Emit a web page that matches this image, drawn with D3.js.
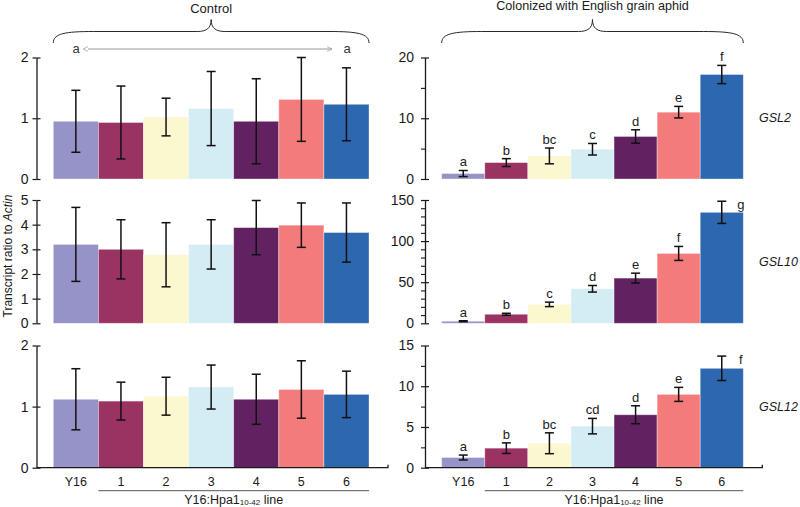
<!DOCTYPE html>
<html><head><meta charset="utf-8">
<script src="https://cdn.jsdelivr.net/npm/d3@7"></script>
<style>body{margin:0;background:#fff}svg{display:block;font-family:"Liberation Sans",Arial,sans-serif}</style>
</head><body><svg id="c" width="800" height="507"></svg>
<script>
// ---------- data ----------
const categories = ["Y16","1","2","3","4","5","6"];
const genes = ["GSL2","GSL10","GSL12"];
const palette = ["#9593c7","#9a3362","#fbf7cf","#d4ecf3","#622262","#f37b7b","#2d67b0"];

const controlMeans_GSL2  = [0.95,0.93,1.02,1.16,0.95,1.31,1.23];
const controlErr_GSL2    = [0.51,0.60,0.31,0.61,0.70,0.69,0.60];
const controlMeans_GSL10 = [3.2,3.0,2.78,3.2,3.88,3.98,3.68];
const controlErr_GSL10   = [1.5,1.2,1.3,1.0,1.1,0.9,1.2];
const controlMeans_GSL12 = [1.12,1.09,1.17,1.32,1.12,1.28,1.2];
const controlErr_GSL12   = [0.5,0.31,0.31,0.36,0.41,0.47,0.38];

const aphidMeans_GSL2  = [0.9,2.7,3.8,4.9,7.0,11.0,17.2];
const aphidErr_GSL2    = [0.5,0.65,1.3,0.95,1.1,0.95,1.5];
const aphidLetters_GSL2 = ["a","b","bc","c","d","e","f"];
const aphidMeans_GSL10 = [2.5,11,23,42,55,85,135];
const aphidErr_GSL10   = [0.6,1.2,2.7,4,6,8.5,13.5];
const aphidLetters_GSL10 = ["a","b","c","d","e","f","g"];
const aphidMeans_GSL12 = [1.25,2.4,3.0,5.1,6.5,9.0,12.2];
const aphidErr_GSL12   = [0.3,0.65,1.28,0.95,1.1,0.86,1.5];
const aphidLetters_GSL12 = ["a","b","bc","cd","d","e","f"];

const controlMax = [2,5,2];
const controlTicks = [[0,1,2],[0,1,2,3,4,5],[0,1,2]];
const aphidMax = [20,150,15];
const aphidTicks = [[0,10,20],[0,50,100,150],[0,5,10,15]];
const aphidMinorTicks = [[5,15],[10,20,30,40,60,70,80,90,110,120,130,140],[2.5,7.5,12.5]];
const lastLetterBeside = [false,true,true];

const controlLetters = ["a","a"];
const groupTitles = ["Control","Colonized with English grain aphid"];
const lineLabel = "Y16:Hpa1";
const lineSub = "10-42";

// ---------- layout ----------
const svg = d3.select("#c");
const ink = "#1a1a1a";
const rows = [{y0:179,y1:57.5},{y0:323.3,y1:200},{y0:467.7,y1:345.5}];
const panels = [
  {axisX:36.5, range:[53.3,369]},
  {axisX:425,  range:[441.7,743.3]}
];
const controlData = [
  [controlMeans_GSL2,controlErr_GSL2],
  [controlMeans_GSL10,controlErr_GSL10],
  [controlMeans_GSL12,controlErr_GSL12]];
const aphidData = [
  [aphidMeans_GSL2,aphidErr_GSL2,aphidLetters_GSL2],
  [aphidMeans_GSL10,aphidErr_GSL10,aphidLetters_GSL10],
  [aphidMeans_GSL12,aphidErr_GSL12,aphidLetters_GSL12]];

function drawAxis(x, y, major, minor, pad){
  const g = svg.append("g").attr("transform",`translate(${x},0)`);
  g.call(d3.axisLeft(y).tickValues(major).tickSize(4).tickSizeOuter(0).tickPadding(pad).tickFormat(d3.format("~g")));
  g.select(".domain").attr("stroke",ink).attr("stroke-width",1.3);
  g.selectAll(".tick line").attr("stroke",ink).attr("stroke-width",1.2);
  g.selectAll(".tick text").attr("fill",ink).style("font-size","14px").style("font-family",'"Liberation Sans",Arial,sans-serif');
  g.selectAll(".tick").append("line").attr("x1",0).attr("x2",4).attr("stroke",ink).attr("stroke-width",1.2);
  if(minor && minor.length){
    const m = svg.append("g").attr("transform",`translate(${x},0)`)
      .call(d3.axisLeft(y).tickValues(minor).tickSize(4).tickSizeOuter(0).tickFormat(""));
    m.select(".domain").remove();
    m.selectAll(".tick line").attr("stroke",ink).attr("stroke-width",1.1);
  }
}

function drawBars(xb, y, means, errs, letters, beside){
  const data = categories.map((c,i)=>({c,i,m:means[i],e:errs[i],l:letters?letters[i]:null}));
  const g = svg.append("g");
  g.selectAll("rect").data(data).join("rect")
    .attr("x",d=>xb(d.c)).attr("width",xb.bandwidth())
    .attr("y",d=>y(d.m)).attr("height",d=>y(0)-y(d.m))
    .attr("fill",d=>palette[d.i])
    .attr("stroke","rgba(255,255,255,0.45)").attr("stroke-width",0.8);
  const cx = d=>xb(d.c)+xb.bandwidth()/2;
  const eg = g.selectAll("g.err").data(data).join("g").attr("class","err")
    .attr("stroke","#111").attr("stroke-width",1.5);
  eg.append("line").attr("x1",cx).attr("x2",cx).attr("y1",d=>y(d.m+d.e)).attr("y2",d=>y(d.m-d.e));
  eg.append("line").attr("x1",d=>cx(d)-4.5).attr("x2",d=>cx(d)+4.5).attr("y1",d=>y(d.m+d.e)).attr("y2",d=>y(d.m+d.e));
  eg.append("line").attr("x1",d=>cx(d)-4.5).attr("x2",d=>cx(d)+4.5).attr("y1",d=>y(d.m-d.e)).attr("y2",d=>y(d.m-d.e));
  if(letters){
    g.selectAll("text.lt").data(data).join("text").attr("class","lt")
      .attr("x",d=> (beside && d.i===6) ? cx(d)+19 : cx(d))
      .attr("y",d=> (beside && d.i===6) ? y(d.m+d.e)+8 : y(d.m+d.e)-4)
      .attr("text-anchor","middle").attr("fill",ink).style("font-size","13px")
      .text(d=>d.l);
  }
}

rows.forEach((row,r)=>{
  const p0 = panels[0];
  const xb0 = d3.scaleBand().domain(categories).range(p0.range).padding(0);
  const y0 = d3.scaleLinear().domain([0,controlMax[r]]).range([row.y0,row.y1]);
  drawBars(xb0,y0,controlData[r][0],controlData[r][1],null,false);
  drawAxis(p0.axisX,y0,controlTicks[r],null,4);
  const p1 = panels[1];
  const xb1 = d3.scaleBand().domain(categories).range(p1.range).padding(0);
  const y1 = d3.scaleLinear().domain([0,aphidMax[r]]).range([row.y0,row.y1]);
  drawBars(xb1,y1,aphidData[r][0],aphidData[r][1],aphidData[r][2],lastLetterBeside[r]);
  drawAxis(p1.axisX,y1,aphidTicks[r],aphidMinorTicks[r],7);
  svg.append("text").attr("x",759).attr("y",(row.y0+row.y1)/2+4)
    .attr("fill",ink).style("font-size","12.5px").style("font-style","italic").text(genes[r]);

  if(r===2){
    [[p0,xb0,y0],[p1,xb1,y1]].forEach(([p,xb,y])=>{
      const xEnd = xb.range()[1]+19;
      svg.append("path").attr("d",`M${p.axisX},${y(0)}H${xEnd}V${y(0)-3}`)
        .attr("fill","none").attr("stroke",ink).attr("stroke-width",1.3);
      svg.append("g").selectAll("text").data(categories).join("text")
        .attr("x",d=>xb(d)+xb.bandwidth()/2).attr("y",486)
        .attr("text-anchor","middle").attr("fill",ink).style("font-size","12.5px").text(d=>d);
      const ux1 = xb("1"), ux2 = xb.range()[1];
      svg.append("line").attr("x1",ux1).attr("x2",ux2).attr("y1",490.7).attr("y2",490.7)
        .attr("stroke","#555").attr("stroke-width",1);
      const t = svg.append("text").attr("x",(ux1+ux2)/2).attr("y",503.5)
        .attr("text-anchor","middle").attr("fill",ink).style("font-size","12.5px");
      t.append("tspan").text(lineLabel);
      t.append("tspan").style("font-size","8px").attr("dy",1.5).text(lineSub);
      t.append("tspan").attr("dy",-1.5).text(" line");
    });
  }
});

// braces
function brace(x1,x2,yTip,yFlat,yPeak){
  const xm=(x1+x2)/2;
  return `M${x1},${yTip} C${x1},${yFlat+2} ${x1+12},${yFlat} ${x1+40},${yFlat}`+
    ` L${xm-14},${yFlat} C${xm-5},${yFlat} ${xm},${yFlat-3} ${xm},${yPeak}`+
    ` C${xm},${yFlat-3} ${xm+5},${yFlat} ${xm+14},${yFlat}`+
    ` L${x2-40},${yFlat} C${x2-12},${yFlat} ${x2},${yFlat+2} ${x2},${yTip}`;
}
panels.forEach((p,i)=>{
  const [a,b]=p.range;
  svg.append("path").attr("d",brace(a,b,43,31.5,19.5)).attr("fill","none")
    .attr("stroke","#2a2a2a").attr("stroke-width",1);
  svg.append("text").attr("x",(a+b)/2).attr("y",i===0?12.5:10)
    .attr("text-anchor","middle").attr("fill",ink).style("font-size",i===0?"13px":"12.6px").text(groupTitles[i]);
});

// control significance arrow
const defs = svg.append("defs");
["s","e"].forEach(k=>{
  defs.append("marker").attr("id","ar"+k).attr("viewBox","0 0 10 10").attr("refX",k==="e"?9:1).attr("refY",5)
    .attr("markerWidth",6).attr("markerHeight",6).attr("orient","auto-start-reverse")
    .append("path").attr("d","M1,1 L9,5 L1,9").attr("fill","none").attr("stroke","#999").attr("stroke-width",1.2);
});
svg.append("line").attr("x1",88).attr("x2",332).attr("y1",49).attr("y2",49)
  .attr("stroke","#9a9a9a").attr("stroke-width",1)
  .attr("marker-start","url(#ars)").attr("marker-end","url(#are)");
svg.append("text").attr("x",76).attr("y",52.5).attr("text-anchor","middle").attr("fill","#333").style("font-size","13px").text(controlLetters[0]);
svg.append("text").attr("x",347).attr("y",52.5).attr("text-anchor","middle").attr("fill","#333").style("font-size","13px").text(controlLetters[1]);

// y title
const yt = svg.append("text").attr("transform","translate(12,256) rotate(-90)")
  .attr("text-anchor","middle").attr("fill",ink).style("font-size","12px");
yt.append("tspan").text("Transcript ratio to ");
yt.append("tspan").style("font-style","italic").text("Actin");
</script></body></html>
